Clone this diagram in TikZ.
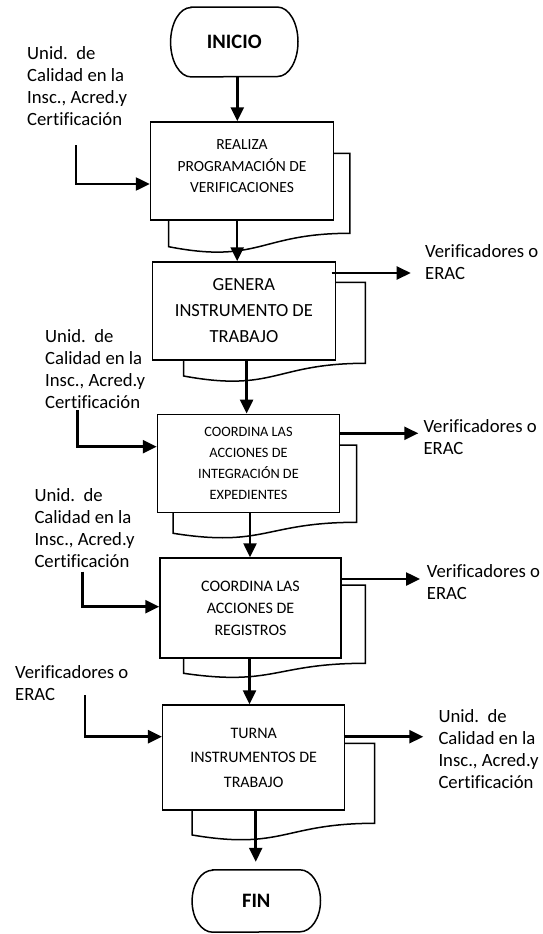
\documentclass[tikz,border=0pt]{standalone}
\usepackage{fontspec}
\setmainfont{Carlito}[Ligatures=NoCommon]
\usetikzlibrary{arrows.meta}

% Paper sheet peeking out behind a process box: left x, top y, right x,
% bottom-left y, bottom-right y (wavy lower edge)
\newcommand{\DrawDocBack}[5]{%
  \draw[docback] (#1,#2) -- (#3,#2) -- (#3,#5)
    .. controls ({(#1+#3)/2},#5) and ({(#1+#3)/2},{#5+2.315*(#4-#5)}) .. (#1,#4) -- cycle;}

% Start/end terminal outline around a node: node name, end x radius, half height
\newcommand{\DrawTerminal}[3]{%
  \draw[termline] ([xshift=#2]#1.north west) -- ([xshift=-#2]#1.north east)
    arc[start angle=90, end angle=-90, x radius=#2, y radius=#3]
    -- ([xshift=#2]#1.south west)
    arc[start angle=270, end angle=90, x radius=#2, y radius=#3] -- cycle;}

\begin{document}
\begin{tikzpicture}[x=1pt,y=-1pt,
  box/.style={draw, line width=1.5pt, fill=white, align=center, inner sep=0pt},
  docback/.style={line width=1.5pt, fill=white, draw},
  termline/.style={line width=1.5pt},
  term/.style={inner sep=0pt, font=\fontsize{20.5}{24}\selectfont\bfseries},
  flow/.style={line width=2.5pt, -{Triangle[length=14pt,width=13pt]}},
  lbl/.style={anchor=west, align=left, inner sep=0pt, font=\fontsize{18.7}{22}\selectfont},
]
\useasboundingbox (0,0) rectangle (543,934);

% sheets behind the process boxes
\DrawDocBack{168.7}{153.3}{349.8}{246.7}{233.3}
\DrawDocBack{183.6}{282.3}{365.4}{376}{363.3}
\DrawDocBack{173.2}{445}{356.7}{533.3}{522.3}
\DrawDocBack{183.6}{585}{365.4}{673.3}{663.3}
\DrawDocBack{192.2}{743.3}{374.7}{835}{823.3}

% process boxes
\node[box, minimum width=183pt, minimum height=98pt, font=\fontsize{15.5}{21.5}\selectfont]
  (b1) at (242,171) {REALIZA\\PROGRAMACIÓN DE\\VERIFICACIONES\\[-12pt]};
\node[box, minimum width=183pt, minimum height=98pt, font=\fontsize{18.5}{26}\selectfont]
  (b2) at (243.9,311) {GENERA\\INSTRUMENTO DE\\TRABAJO};
\node[box, minimum width=182pt, minimum height=98.4pt, font=\fontsize{14.3}{21}\selectfont]
  (b3) at (248.5,463.5) {COORDINA LAS\\ACCIONES DE\\INTEGRACIÓN DE\\EXPEDIENTES};
\node[box, minimum width=181pt, minimum height=100pt, font=\fontsize{16}{22}\selectfont]
  (b4) at (250.5,608) {COORDINA LAS\\ACCIONES DE\\REGISTROS};
\node[box, minimum width=182pt, minimum height=105pt, font=\fontsize{16}{24.5}\selectfont]
  (b5) at (253.7,757.5) {TURNA\\INSTRUMENTOS DE\\TRABAJO};

% terminals
\node[term, minimum width=127pt, minimum height=69.4pt] (inicio) at (234.3,42) {INICIO};
\DrawTerminal{inicio}{20.4pt}{34.7pt}
\node[term, minimum width=128pt, minimum height=62pt] (fin) at (256.3,901) {FIN};
\DrawTerminal{fin}{20.6pt}{31pt}

% participants
\node[lbl] (src1) at (27,86) {Unid.\ \ de\\Calidad en la\\Insc., Acred.y\\Certificación};
\node[lbl] (dst2) at (425,262.5) {Verificadores o\\ERAC};
\node[lbl] (src3) at (45,369) {Unid.\ \ de\\Calidad en la\\Insc., Acred.y\\Certificación};
\node[lbl] (dst3) at (423.3,437.5) {Verificadores o\\ERAC};
\node[lbl] (src4) at (34.3,528) {Unid.\ \ de\\Calidad en la\\Insc., Acred.y\\Certificación};
\node[lbl] (dst4) at (426.7,582.5) {Verificadores o\\ERAC};
\node[lbl] (src5) at (15,683.3) {Verificadores o\\ERAC};
\node[lbl] (dst5) at (438.3,749) {Unid.\ \ de\\Calidad en la\\Insc., Acred.y\\Certificación};

% main flow
\draw[flow] ([xshift=3pt]inicio.south) -- ([xshift=3pt]inicio.south |- b1.north);
\draw[flow] ([xshift=-4.8pt]b1.south) -- ([xshift=-4.8pt]b1.south |- b2.north);
\draw[flow] ([xshift=2.7pt]b2.south) -- ([xshift=2.7pt]b2.south |- b3.north);
\draw[flow] ([xshift=1.5pt]b3.south) -- ([xshift=1.5pt]b3.south |- b4.north);
\draw[flow] ([xshift=-1pt]b4.south) -- ([xshift=-1pt]b4.south |- b5.north);
\draw[flow, shorten >=8pt] ([xshift=2pt]b5.south) -- ([xshift=2pt]b5.south |- fin.north);

% incoming documents
\coordinate (in1) at (76,145);
\coordinate (in3) at (77.3,410);
\coordinate (in4) at (82.7,571.7);
\coordinate (in5) at (85,695);
\draw[flow] (in1) |- ([yshift=-13pt]b1.west);
\draw[flow] (in3) |- ([yshift=16.8pt]b3.west);
\draw[flow] (in4) |- ([yshift=1.3pt]b4.west);
\draw[flow] (in5) |- ([yshift=20.8pt]b5.west);

% outgoing documents
\coordinate (out2) at (410.7,273);
\coordinate (out3) at (418.3,433.3);
\coordinate (out4) at (420,579);
\coordinate (out5) at (423.3,736.7);
\draw[flow] ([xshift=-4.5pt]b2.east |- out2) -- (out2);
\draw[flow] (b3.east |- out3) -- (out3);
\draw[flow] (b4.east |- out4) -- (out4);
\draw[flow] ([xshift=-1.7pt]b5.east |- out5) -- (out5);
\end{tikzpicture}
\end{document}
